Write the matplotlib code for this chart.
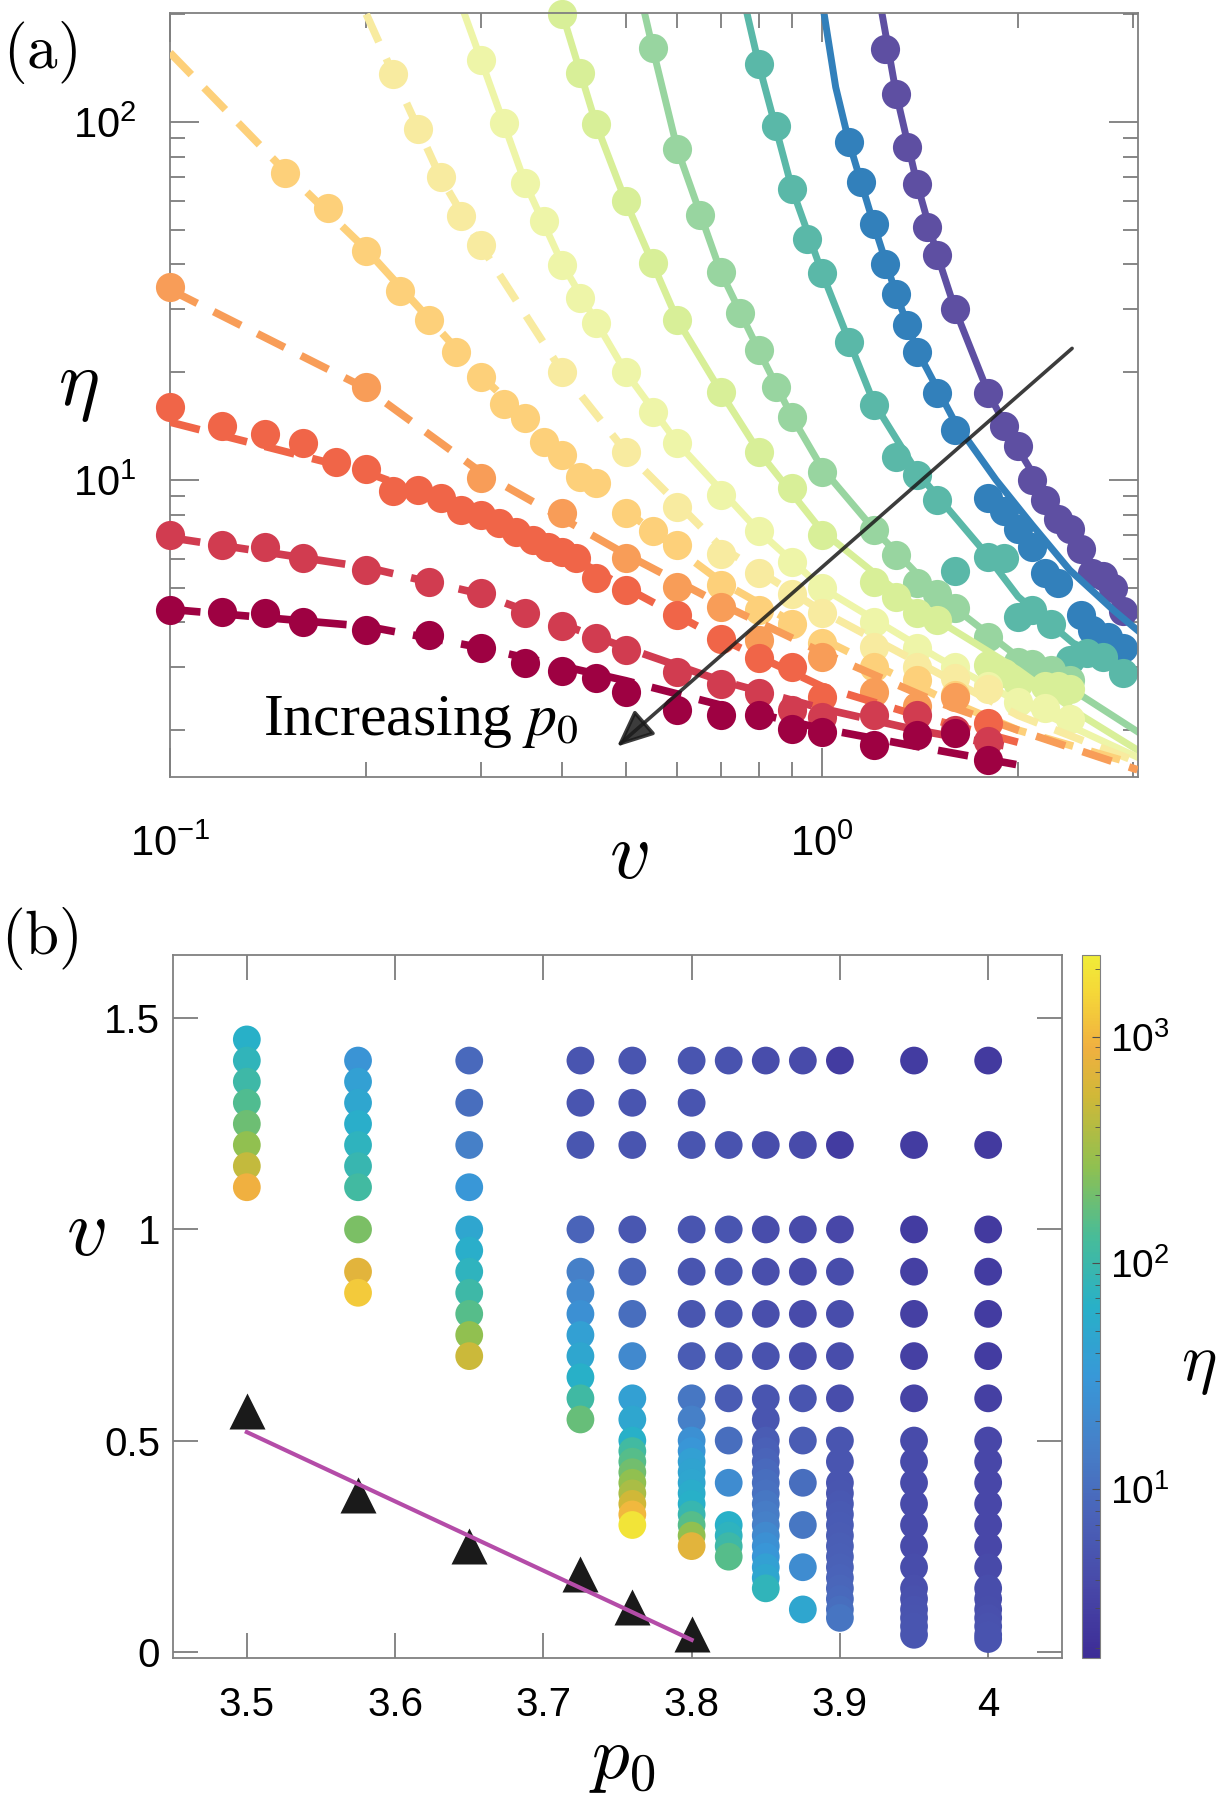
import matplotlib
matplotlib.use('Agg')
import matplotlib.pyplot as plt
from matplotlib.colors import LinearSegmentedColormap, LogNorm
from matplotlib.ticker import NullFormatter

plt.rcParams['font.family'] = ['Liberation Sans', 'DejaVu Sans']
plt.rcParams['mathtext.fontset'] = 'stix'

# ---------------- panel (a): eta vs v, one set per p0 ----------------
# p0 = 3.5 (purple) ... p0 = 4.0 (dark red); fit* = model curves
v_350 = [1.25, 1.3, 1.35, 1.4, 1.45, 1.5, 1.6, 1.8, 1.9, 2.0, 2.1, 2.2, 2.3, 2.4, 2.5, 2.6, 2.7, 2.8, 2.9]
eta_350 = [160, 120, 85, 67, 51, 42.5, 30, 17.5, 14.1, 12.4, 10, 8.8, 7.8, 7.3, 6.4, 5.5, 5.4, 5.0, 4.3]
fitv_350 = [1.237, 1.3, 1.4, 1.5, 1.6, 1.8, 2.0, 2.3, 2.6, 3.05]
fiteta_350 = [200, 120, 67, 43, 30, 17.5, 12.2, 8.0, 5.6, 4.2]

v_3575 = [1.1, 1.15, 1.2, 1.25, 1.3, 1.35, 1.4, 1.5, 1.6, 1.8, 1.9, 2.0, 2.1, 2.2, 2.3, 2.5, 2.6, 2.75, 2.9]
eta_3575 = [88, 68, 52, 40, 33, 27, 22.8, 17.5, 13.8, 8.9, 8.2, 7.3, 6.5, 5.5, 5.15, 4.2, 3.8, 3.65, 3.4]
fitv_3575 = [1.008, 1.05, 1.1, 1.2, 1.3, 1.4, 1.6, 1.85, 2.1, 2.4, 2.8, 3.05]
fiteta_3575 = [200, 125, 88, 52, 33, 23, 14.5, 10, 7.5, 5.6, 4.33, 3.8]

v_365 = [0.8, 0.85, 0.9, 0.95, 1.0, 1.1, 1.2, 1.3, 1.4, 1.5, 1.6, 1.8, 1.9, 2.0, 2.1, 2.25, 2.4, 2.55, 2.7, 2.9]
eta_365 = [145, 97.5, 65, 47, 37.9, 24.2, 16.2, 11.6, 10.3, 8.8, 5.55, 6.1, 6.05, 4.15, 4.33, 3.97, 3.14, 3.28, 3.21, 2.89]
fitv_365 = [0.768, 0.8, 0.9, 1.0, 1.1, 1.2, 1.4, 1.75, 2.0, 2.43, 3.05]
fiteta_365 = [200, 145, 65, 38, 24.5, 16.5, 10.5, 6.5, 4.72, 3.5, 2.9]

v_3725 = [0.55, 0.6, 0.65, 0.7, 0.75, 0.8, 0.85, 0.9, 1.0, 1.2, 1.3, 1.4, 1.5, 1.6, 1.8, 2.0, 2.1, 2.25, 2.4]
eta_3725 = [161, 84, 55, 38, 29.3, 23, 18.2, 15, 10.5, 7.25, 6.17, 5.15, 4.8, 4.38, 3.65, 3.1, 3.07, 2.94, 2.76]
fitv_3725 = [0.535, 0.55, 0.6, 0.7, 0.8, 0.9, 1.0, 1.2, 1.5, 2.0, 2.5, 3.05]
fiteta_3725 = [200, 161, 84, 38, 23, 15, 10.8, 7.3, 4.8, 3.2, 2.5, 1.98]

v_376 = [0.4, 0.425, 0.45, 0.5, 0.55, 0.6, 0.7, 0.8, 0.9, 1.0, 1.2, 1.3, 1.4, 1.5, 1.8, 1.9, 2.0, 2.2, 2.3, 2.4]
eta_376 = [200, 137, 98.6, 60, 40.4, 28, 17.6, 12, 9.5, 7.0, 5.2, 4.7, 4.25, 4.07, 3.04, 2.88, 2.7, 2.66, 2.66, 2.6]
fitv_376 = [0.4, 0.45, 0.5, 0.6, 0.7, 0.8, 1.0, 1.4, 2.0, 2.5, 3.05]
fiteta_376 = [200, 99, 60, 28, 17.6, 12, 7.2, 4.4, 2.95, 2.2, 1.76]

v_380 = [0.3, 0.325, 0.35, 0.375, 0.4, 0.425, 0.45, 0.5, 0.55, 0.6, 0.7, 0.8, 0.9, 1.0, 1.2, 1.4, 1.6, 1.8, 2.0, 2.2, 2.4]
eta_380 = [149, 99, 67.6, 52.9, 39.9, 32.2, 27.5, 20, 15.5, 12.7, 9.1, 7.2, 5.9, 5.0, 4.0, 3.4, 3.0, 2.66, 2.4, 2.3, 2.15]
fitv_380 = [0.283, 0.3, 0.35, 0.4, 0.5, 0.6, 0.8, 1.0, 1.5, 2.0, 3.05]
fiteta_380 = [200, 149, 68, 40, 20, 12.7, 7.2, 5.0, 3.2, 2.4, 1.68]

v_3825 = [0.22, 0.24, 0.26, 0.28, 0.3, 0.4, 0.5, 0.6, 0.7, 0.8, 0.9, 1.0, 1.2, 1.4, 1.6, 1.8]
eta_3825 = [136, 95.6, 70, 54.6, 45.3, 20, 12, 8.4, 6.2, 5.5, 4.8, 4.25, 3.42, 3.0, 2.8, 2.6]
fitv_3825 = [0.2, 0.22, 0.26, 0.3, 0.4, 0.5, 0.7, 1.0, 1.5, 2.0, 3.05]
fiteta_3825 = [200, 136, 70, 45, 20, 12, 6.5, 4.3, 2.9, 2.2, 1.63]

v_385 = [0.15, 0.175, 0.2, 0.225, 0.25, 0.275, 0.3, 0.325, 0.35, 0.375, 0.4, 0.425, 0.45, 0.5, 0.55, 0.6, 0.7, 0.8, 0.9, 1.0, 1.2, 1.4, 1.6]
eta_385 = [72, 57.5, 43.6, 33.7, 28, 22.8, 19.4, 16.3, 14.9, 12.8, 11.75, 10.2, 9.8, 8.07, 7.18, 6.6, 5.1, 4.33, 3.97, 3.5, 3.0, 2.76, 2.5]
fitv_385 = [0.1, 0.15, 0.2, 0.3, 0.4, 0.5, 0.7, 1.0, 1.5, 2.0, 3.05]
fiteta_385 = [156, 73, 44, 19.5, 12, 8.2, 5.2, 3.6, 2.5, 2.0, 1.6]

v_3875 = [0.1, 0.2, 0.3, 0.4, 0.5, 0.6, 0.7, 0.8, 1.0, 1.2, 1.4, 1.6]
eta_3875 = [34.6, 18.2, 10.1, 8.07, 6.04, 5.03, 4.43, 3.57, 3.21, 2.56, 2.33, 2.48]
fitv_3875 = [0.1, 0.2, 0.3, 0.5, 0.7, 1.0, 1.5, 2.0, 3.05]
fiteta_3875 = [34, 18, 10.5, 6.2, 4.5, 3.3, 2.4, 2.0, 1.55]

v_390 = [0.1, 0.12, 0.14, 0.16, 0.18, 0.2, 0.22, 0.24, 0.26, 0.28, 0.3, 0.32, 0.34, 0.36, 0.38, 0.4, 0.42, 0.45, 0.5, 0.6, 0.7, 0.8, 0.9, 1.0, 1.8]
eta_390 = [16.0, 14.1, 13.4, 12.7, 11.2, 10.7, 9.3, 9.4, 8.9, 8.25, 8.0, 7.56, 7.17, 6.8, 6.5, 6.3, 6.04, 5.31, 4.93, 4.2, 3.6, 3.18, 3.0, 2.48, 2.09]
fitv_390 = [0.1, 0.2, 0.3, 0.4, 0.5, 0.7, 1.0, 1.4, 2.0]
fiteta_390 = [14.5, 10.5, 8.0, 6.3, 5.0, 3.6, 2.65, 2.2, 1.85]

v_395 = [0.1, 0.12, 0.14, 0.16, 0.2, 0.25, 0.3, 0.35, 0.4, 0.45, 0.5, 0.6, 0.7, 0.8, 0.9, 1.0, 1.2, 1.4, 1.6, 1.8]
eta_395 = [7.02, 6.58, 6.5, 6.06, 5.6, 5.19, 4.83, 4.25, 3.9, 3.62, 3.35, 2.91, 2.7, 2.54, 2.28, 2.18, 2.2, 2.2, 2.0, 1.86]
fitv_395 = [0.1, 0.2, 0.3, 0.5, 0.7, 1.0, 1.4, 2.0]
fiteta_395 = [6.9, 5.7, 4.8, 3.4, 2.75, 2.3, 2.0, 1.78]

v_400 = [0.1, 0.12, 0.14, 0.16, 0.2, 0.25, 0.3, 0.35, 0.4, 0.45, 0.5, 0.6, 0.7, 0.8, 0.9, 1.0, 1.2, 1.4, 1.6, 1.8]
eta_400 = [4.33, 4.29, 4.25, 4.01, 3.81, 3.69, 3.39, 3.08, 2.93, 2.8, 2.56, 2.28, 2.2, 2.2, 2.02, 1.98, 1.82, 1.94, 1.96, 1.65]
fitv_400 = [0.1, 0.2, 0.3, 0.5, 0.7, 1.0, 1.4, 2.0]
fiteta_400 = [4.35, 3.9, 3.4, 2.75, 2.35, 2.02, 1.8, 1.6]

# ---------------- panel (b): v vs p0, colour = eta ----------------
bv_350 = [1.45, 1.4, 1.35, 1.3, 1.25, 1.2, 1.15, 1.1]
beta_350 = [64, 80, 106, 141, 187, 270, 475, 910]
bv_3575 = [1.4, 1.35, 1.3, 1.25, 1.2, 1.15, 1.1, 1.0, 0.9, 0.85]
beta_3575 = [28, 39, 48, 60, 75, 90, 114, 216, 730, 1290]
bv_365 = [1.4, 1.3, 1.2, 1.1, 1.0, 0.95, 0.9, 0.85, 0.8, 0.75, 0.7]
beta_365 = [9, 10, 15.5, 31, 48, 60, 75, 106, 150, 270, 510]
bv_3725 = [1.4, 1.3, 1.2, 1.0, 0.9, 0.85, 0.8, 0.75, 0.7, 0.65, 0.6, 0.55]
beta_3725 = [5.3, 5.3, 5.5, 8.1, 15.5, 20, 25, 39, 48, 64, 110, 180]
bv_376 = [1.4, 1.3, 1.2, 1.0, 0.9, 0.8, 0.7, 0.6, 0.55, 0.5, 0.475, 0.45, 0.425, 0.4, 0.375, 0.35, 0.325, 0.3]
beta_376 = [5.3, 5.3, 5.3, 5.6, 8.1, 10, 20, 39, 48, 64, 114, 150, 200, 270, 355, 550, 1000, 2000]
bv_380 = [1.4, 1.3, 1.2, 1.0, 0.9, 0.8, 0.7, 0.6, 0.55, 0.5, 0.475, 0.45, 0.425, 0.4, 0.375, 0.35, 0.325, 0.3, 0.275, 0.25]
beta_380 = [5.3, 5.3, 5.3, 5.3, 5.3, 5.5, 6.5, 12.4, 15.5, 25, 30, 39, 44, 48, 56, 64, 90, 150, 270, 730]
bv_3825 = [1.4, 1.2, 1.0, 0.9, 0.8, 0.7, 0.6, 0.5, 0.4, 0.3, 0.275, 0.25, 0.225]
beta_3825 = [5.0, 5.0, 5.3, 5.3, 5.3, 5.5, 6.5, 10, 22, 64, 75, 106, 150]
bv_385 = [1.4, 1.2, 1.0, 0.9, 0.8, 0.7, 0.6, 0.55, 0.5, 0.475, 0.45, 0.425, 0.4, 0.375, 0.35, 0.325, 0.3, 0.275, 0.25, 0.225, 0.2, 0.175, 0.15]
beta_385 = [4.25, 4.25, 4.25, 4.5, 4.5, 4.8, 5.3, 5.3, 6.5, 7.2, 8.1, 9, 10, 11, 12.4, 14, 15.5, 20, 25, 30, 39, 48, 80]
bv_3875 = [1.4, 1.2, 1.0, 0.9, 0.8, 0.7, 0.6, 0.5, 0.4, 0.3, 0.2, 0.1]
beta_3875 = [4.0, 4.0, 4.0, 4.0, 4.0, 4.25, 5.3, 6.5, 10, 12.4, 22, 48]
bv_390 = [1.4, 1.2, 1.0, 0.9, 0.8, 0.7, 0.6, 0.5, 0.45, 0.4, 0.375, 0.35, 0.325, 0.3, 0.275, 0.25, 0.225, 0.2, 0.175, 0.15, 0.125, 0.1, 0.08]
beta_390 = [2.8, 2.8, 3.7, 4.25, 4.25, 4.25, 4.25, 5.3, 5.3, 5.3, 5.5, 5.8, 6.0, 6.3, 6.5, 6.8, 7.0, 7.3, 7.8, 8.3, 9.0, 10, 12]
bv_395 = [1.4, 1.2, 1.0, 0.9, 0.8, 0.7, 0.6, 0.5, 0.45, 0.4, 0.35, 0.3, 0.25, 0.2, 0.15, 0.125, 0.1, 0.08, 0.06, 0.04]
beta_395 = [2.8, 2.8, 2.8, 3.0, 3.0, 3.0, 3.3, 4.0, 4.0, 4.0, 4.0, 4.0, 4.0, 4.25, 4.5, 4.7, 5.0, 5.2, 5.3, 5.3]
bv_400 = [1.4, 1.2, 1.0, 0.9, 0.8, 0.7, 0.6, 0.5, 0.45, 0.4, 0.35, 0.3, 0.25, 0.2, 0.15, 0.125, 0.1, 0.08, 0.06, 0.04, 0.03]
beta_400 = [2.6, 2.6, 2.6, 2.8, 2.8, 2.8, 3.0, 3.7, 3.7, 3.7, 3.7, 3.7, 3.7, 3.9, 4.25, 4.25, 4.4, 4.6, 4.8, 5.0, 5.0]

# yield-point estimates (triangles) and linear fit
tri_p0 = [3.5, 3.575, 3.65, 3.725, 3.76, 3.8]
tri_v = [0.57, 0.37, 0.25, 0.184, 0.106, 0.042]
line_p0 = [3.5, 3.8]
line_v = [0.52, 0.028]

W, H = 1221, 1800


def fx(px):
    return px / W


def fy(py):
    return 1 - py / H


fig = plt.figure(figsize=(W / 100, H / 100), dpi=100)

# ======================= panel (a) =======================
ax = fig.add_axes([fx(170), fy(777), fx(1137.6) - fx(170), fy(13.3) - fy(777)])

series_a = [
    (v_350, eta_350, fitv_350, fiteta_350, '#5e4fa2', '-'),
    (v_3575, eta_3575, fitv_3575, fiteta_3575, '#3280bb', '-'),
    (v_365, eta_365, fitv_365, fiteta_365, '#5ab8a8', '-'),
    (v_3725, eta_3725, fitv_3725, fiteta_3725, '#98d5a0', '-'),
    (v_376, eta_376, fitv_376, fiteta_376, '#d8ef98', '-'),
    (v_380, eta_380, fitv_380, fiteta_380, '#eef5a8', '-'),
    (v_3825, eta_3825, fitv_3825, fiteta_3825, '#f8eba0', '--'),
    (v_385, eta_385, fitv_385, fiteta_385, '#fdd07a', '--'),
    (v_3875, eta_3875, fitv_3875, fiteta_3875, '#f89d58', '--'),
    (v_390, eta_390, fitv_390, fiteta_390, '#f06548', '--'),
    (v_395, eta_395, fitv_395, fiteta_395, '#d13c50', '--'),
    (v_400, eta_400, fitv_400, fiteta_400, '#9e0142', '--'),
]

for i, (v, eta, fv, fe, col, ls) in enumerate(series_a):
    z = 2 + 0.1 * i
    if ls == '-':
        ax.plot(fv, fe, color=col, lw=5, zorder=z)
    else:
        ax.plot(fv, fe, color=col, lw=5.5, ls=(0, (4, 2.4)), zorder=z)
    ax.plot(v, eta, 'o', color=col, ms=21, mec='none', zorder=z, clip_on=False)

ax.set_xscale('log')
ax.set_yscale('log')
ax.set_xlim(0.1, 3.05)
ax.set_ylim(1.48, 201)
ax.xaxis.set_minor_formatter(NullFormatter())
ax.yaxis.set_minor_formatter(NullFormatter())
ax.tick_params(which='both', direction='in', top=True, right=True, color='0.4', width=1.1)
ax.tick_params(which='major', length=21, labelsize=30)
ax.tick_params(which='minor', length=10.5)
ax.tick_params(axis='x', which='major', pad=34)
ax.tick_params(axis='y', which='major', pad=24)
for s in ax.spines.values():
    s.set_color('0.5')
    s.set_linewidth(1.3)

ax.annotate('', xy=(0.485, 1.8), xytext=(2.42, 23.3),
            arrowprops=dict(arrowstyle='-|>,head_length=0.5,head_width=0.22', mutation_scale=45,
                            color='#1a1a1a', lw=2.6, alpha=0.85, shrinkA=0, shrinkB=0),
            zorder=10)
ax.text(0.139, 1.94, r'Increasing $p_0$', family='Liberation Serif', fontsize=43,
        ha='left', va='baseline', zorder=11)

fig.text(fx(40), fy(52), r'$\mathrm{(a)}$', math_fontfamily='cm', fontsize=44, ha='center', va='center')
fig.text(fx(78), fy(388), r'$\eta$', math_fontfamily='cm', fontsize=56, ha='center', va='center')
fig.text(fx(629), fy(857), r'$v$', math_fontfamily='cm', fontsize=58, ha='center', va='center')

# ======================= panel (b) =======================
cmap = LinearSegmentedColormap.from_list('parula_like', [
    (0.0, '#3d2c96'), (0.1, '#4848a8'), (0.2, '#4a62b8'), (0.3, '#4680c8'),
    (0.4, '#3898d8'), (0.5, '#28b0c8'), (0.6, '#48bc98'), (0.7, '#90c050'),
    (0.8, '#d0b838'), (0.87, '#f0b040'), (0.95, '#f5d838'), (1.0, '#f0ec38')])
norm = LogNorm(vmin=1.8, vmax=2300)

axb = fig.add_axes([fx(172.7), fy(1658), fx(1062.3) - fx(172.7), fy(955) - fy(1658)])

columns_b = [
    (3.5, bv_350, beta_350), (3.575, bv_3575, beta_3575), (3.65, bv_365, beta_365),
    (3.725, bv_3725, beta_3725), (3.76, bv_376, beta_376), (3.8, bv_380, beta_380),
    (3.825, bv_3825, beta_3825), (3.85, bv_385, beta_385), (3.875, bv_3875, beta_3875),
    (3.9, bv_390, beta_390), (3.95, bv_395, beta_395), (4.0, bv_400, beta_400),
]
for p0, v, eta in columns_b:
    sc = axb.scatter([p0] * len(v), v, c=eta, cmap=cmap, norm=norm, s=400,
                     edgecolors='none', zorder=2)

axb.plot(tri_p0, tri_v, '^', color='#1a1a1a', ms=26, mec='none', zorder=3)
axb.plot(line_p0, line_v, color='#b44ca8', lw=3, zorder=4)

axb.set_xlim(3.45, 4.05)
axb.set_ylim(-0.015, 1.65)
axb.set_xticks([3.5, 3.6, 3.7, 3.8, 3.9, 4.0])
axb.set_xticklabels(['3.5', '3.6', '3.7', '3.8', '3.9', '4'])
axb.set_yticks([0, 0.5, 1, 1.5])
axb.set_yticklabels(['0', '0.5', '1', '1.5'])
axb.tick_params(direction='in', top=True, right=True, length=18, width=1.1, color='0.4', labelsize=29)
axb.tick_params(axis='x', pad=20)
axb.tick_params(axis='y', pad=9)
for s in axb.spines.values():
    s.set_color('0.5')
    s.set_linewidth(1.3)

cax = fig.add_axes([fx(1082), fy(1658), fx(1100) - fx(1082), fy(955) - fy(1658)])
cb = fig.colorbar(sc, cax=cax)
cb.ax.tick_params(which='both', direction='in', color='0.3', labelsize=28, pad=7)
cb.ax.tick_params(which='major', length=6)
cb.ax.tick_params(which='minor', length=3.5)
cb.outline.set_edgecolor('0.5')

fig.text(fx(40), fy(938), r'$\mathrm{(b)}$', math_fontfamily='cm', fontsize=44, ha='center', va='center')
fig.text(fx(86), fy(1234), r'$v$', math_fontfamily='cm', fontsize=58, ha='center', va='center')
fig.text(fx(622), fy(1778), r'$p_0$', math_fontfamily='cm', fontsize=54, ha='center', va='baseline')
fig.text(fx(1199), fy(1366), r'$\eta$', math_fontfamily='cm', fontsize=48, ha='center', va='center')

fig.savefig('out.png', dpi=100)
